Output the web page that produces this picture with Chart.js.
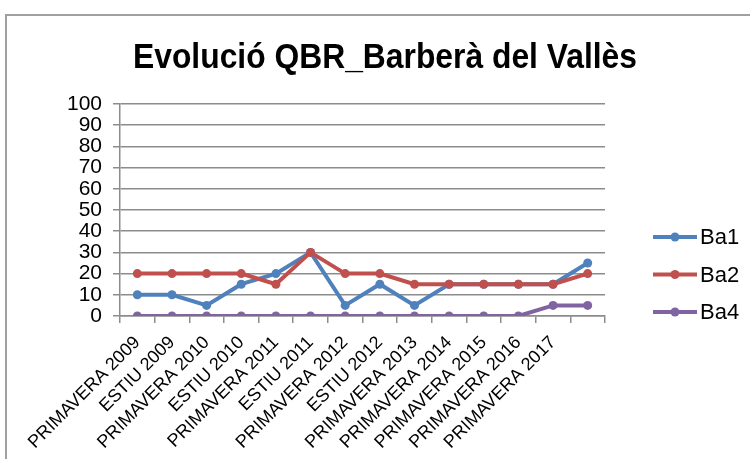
<!DOCTYPE html>
<html>
<head>
<meta charset="utf-8">
<script src="https://cdn.jsdelivr.net/npm/chart.js@4.4.1/dist/chart.umd.min.js"></script>
<style>
    html, body { margin: 0; padding: 0; background: #fff; }
    #wrap { width: 750px; height: 459px; position: relative; }
</style>
</head>
<body>
<div id="wrap"><canvas id="qbrChart" width="750" height="459"></canvas></div>
<script>
const campanyes = ['PRIMAVERA 2009', 'ESTIU 2009', 'PRIMAVERA 2010', 'ESTIU 2010', 'PRIMAVERA 2011',
    'ESTIU 2011', 'PRIMAVERA 2012', 'ESTIU 2012', 'PRIMAVERA 2013', 'PRIMAVERA 2014',
    'PRIMAVERA 2015', 'PRIMAVERA 2016', 'PRIMAVERA 2017', ''];
const ba1 = [10, 10, 5, 15, 20, 30, 5, 15, 5, 15, 15, 15, 15, 25];
const ba2 = [20, 20, 20, 20, 15, 30, 20, 20, 15, 15, 15, 15, 15, 20];
const ba4 = [0, 0, 0, 0, 0, 0, 0, 0, 0, 0, 0, 0, 5, 5];
const titol = 'Evolució QBR_Barberà del Vallès';

const gris = '#8c8c8c';

// marc, titol i llegenda a mà, com el grafic d'Excel
const marcPlugin = {
    id: 'marc',
    beforeDraw(chart) {
        const c = chart.ctx;
        c.save();
        c.strokeStyle = '#a0a0a0';
        c.lineWidth = 2;
        c.beginPath();
        c.moveTo(6, 459);
        c.lineTo(6, 15);
        c.lineTo(750, 15);
        c.stroke();
        c.restore();
    },
    afterDraw(chart) {
        const c = chart.ctx;
        c.save();
        // titol
        c.font = 'bold 35px "Liberation Sans", Arial, sans-serif';
        c.fillStyle = '#000';
        c.textBaseline = 'alphabetic';
        const w = c.measureText(titol).width;
        const escala = 504 / w;
        c.translate(385, 68);
        c.scale(escala, 1);
        c.textAlign = 'center';
        c.fillText(titol, 0, 0);
        c.restore();

        // llegenda
        c.save();
        c.font = '22px "Liberation Sans", Arial, sans-serif';
        c.textBaseline = 'middle';
        c.textAlign = 'left';
        chart.data.datasets.forEach((ds, i) => {
            const y = 237 + i * 37.5;
            c.strokeStyle = ds.borderColor;
            c.lineWidth = 4;
            c.beginPath();
            c.moveTo(653, y);
            c.lineTo(697, y);
            c.stroke();
            c.fillStyle = ds.borderColor;
            c.beginPath();
            c.arc(675, y, 4.5, 0, Math.PI * 2);
            c.fill();
            c.fillStyle = '#000';
            c.fillText(ds.label, 700, y + 1);
        });
        c.restore();
    }
};

const ctx = document.getElementById('qbrChart').getContext('2d');
const qbrChart = new Chart(ctx, {
    type: 'line',
    data: {
        labels: campanyes,
        datasets: [{
            label: 'Ba1',
            data: ba1,
            borderColor: '#4F81BD',
            backgroundColor: '#4F81BD',
            order: 3
        }, {
            label: 'Ba2',
            data: ba2,
            borderColor: '#C0504D',
            backgroundColor: '#C0504D',
            order: 2
        }, {
            label: 'Ba4',
            data: ba4,
            borderColor: '#8064A2',
            backgroundColor: '#8064A2',
            order: 1
        }]
    },
    options: {
        responsive: false,
        animation: false,
        layout: {
            padding: { top: 104, right: 145, left: 0, bottom: 0 }
        },
        elements: {
            line: { borderWidth: 4, tension: 0 },
            point: { radius: 4.5, borderWidth: 0, hoverRadius: 4.5 }
        },
        plugins: {
            legend: { display: false },
            title: { display: false },
            tooltip: { enabled: false }
        },
        scales: {
            x: {
                offset: true,
                afterFit: function (scale) { scale.height = 143; },
                grid: {
                    offset: true,
                    drawOnChartArea: false,
                    color: gris,
                    tickLength: 7,
                    lineWidth: 1.5
                },
                border: { color: gris, width: 1.5 },
                ticks: {
                    autoSkip: false,
                    minRotation: 45,
                    maxRotation: 45,
                    color: '#000',
                    padding: 9,
                    font: { family: '"Liberation Sans", Arial, sans-serif', size: 18 }
                }
            },
            y: {
                min: 0,
                max: 100,
                afterFit: function (scale) { scale.width = 120; },
                grid: {
                    color: gris,
                    tickLength: 7,
                    lineWidth: 1.5
                },
                border: { color: gris, width: 1.5 },
                ticks: {
                    stepSize: 10,
                    autoSkip: false,
                    color: '#000',
                    padding: 11,
                    font: { family: '"Liberation Sans", Arial, sans-serif', size: 21, lineHeight: 1 }
                }
            }
        }
    },
    plugins: [marcPlugin]
});
</script>
</body>
</html>
